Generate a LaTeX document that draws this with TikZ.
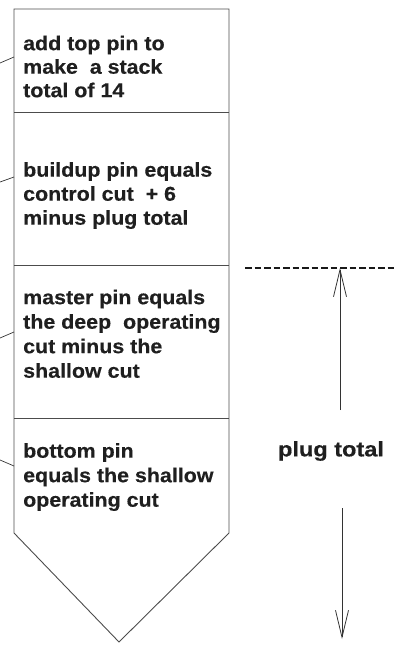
\documentclass[tikz,border=0pt]{standalone}
\usepackage{fontspec}
\setmainfont{Liberation Sans}[FakeStretch=1.07,FakeBold=0.4]
\newfontfamily\plugfont{Liberation Sans}[FakeStretch=1.12,FakeBold=0.4]
\usetikzlibrary{arrows.meta}
\tikzset{
  outline/.style={draw=black!70, line width=0.9pt},
  leader/.style={draw=black!80, line width=0.7pt},
  pintext/.style={anchor=north west, inner sep=0pt, align=left, text=black!88,
    font=\fontsize{20}{#1}\selectfont\bfseries},
  pintext/.default=24.5,
  dim/.style={draw=black!80, line width=0.8pt, -{Straight Barb[length=27pt,width=13pt,line width=0.8pt]}},
  refline/.style={draw=black!90, line width=2pt, dash pattern=on 6.5pt off 3pt}
}
\begin{document}
\begin{tikzpicture}[x=1pt,y=-1pt]
\useasboundingbox (0,0) rectangle (396,646);
% stack outline
\coordinate (tl) at (14,9);
\coordinate (tr) at (229,9);
\coordinate (br) at (229,533);
\coordinate (tip) at (119,642);
\coordinate (bl) at (14,533);
\draw[outline] (tl) -- (tr) -- (br) -- (tip) -- (bl) -- cycle;
\draw[outline] (14,112) -- (229,112);
\draw[outline] (14,265) -- (229,265);
\draw[outline] (14,418) -- (229,418);
% texts
\node[pintext=23.5] (t1) at (23,35.5) {add top pin to\\make\ \ a stack\\total of 14};
\node[pintext=24] (t2) at (23,162) {buildup pin equals\\control cut\ \ + 6\\minus plug total};
\node[pintext] (t3) at (23,289.5) {master pin equals\\the deep\ \ operating\\cut minus the\\shallow cut};
\node[pintext] (t4) at (23,443) {bottom pin\\equals the shallow\\operating cut};
% leaders
\coordinate (l1) at (0,63);   \coordinate (e1) at (14,57);
\coordinate (l2) at (0,182);  \coordinate (e2) at (14,177);
\coordinate (l3) at (0,338);  \coordinate (e3) at (14,332);
\coordinate (l4) at (0,460);  \coordinate (e4) at (14,466);
\draw[leader] (l1) -- (e1);
\draw[leader] (l2) -- (e2);
\draw[leader] (l3) -- (e3);
\draw[leader] (l4) -- (e4);
% plug total dimension
\coordinate (d1) at (245,268);
\coordinate (d2) at (396,268);
\draw[refline] (d1) -- (d2);
\node[inner sep=0pt, text=black!88, font=\plugfont\fontsize{21}{24}\selectfont\bfseries] (plug) at (331,451) {plug total};
\coordinate (upbot) at (340,410);
\coordinate (uptop) at (340,268);
\coordinate (dntop) at (342,508);
\coordinate (dnbot) at (342,639);
\draw[dim] (upbot) -- (uptop);
\draw[dim] (dntop) -- (dnbot);
\end{tikzpicture}
\end{document}
